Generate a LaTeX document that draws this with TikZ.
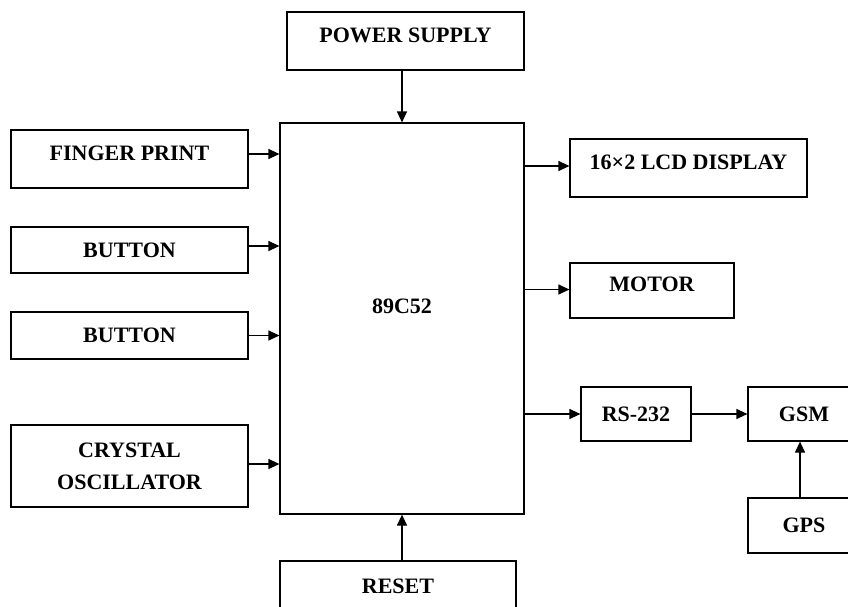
\documentclass[tikz,border=0pt]{standalone}
\usepackage{fontspec}
\setmainfont{Liberation Serif}
\usetikzlibrary{arrows.meta,calc,positioning}

\tikzset{
  blk/.style={draw,line width=1.2pt,align=center,inner sep=2pt,font=\bfseries\fontsize{22}{32}\selectfont},
  hi/.style={text depth=12pt},
  arr/.style={line width=1.2pt,-{Triangle[length=11pt,width=10pt]}}
}

\begin{document}
\begin{tikzpicture}[x=1pt,y=-1pt]
\path[use as bounding box] (0,0) rectangle (848,606);
\node[blk,hi,minimum width=237pt,minimum height=58pt] (power) at (405.5,41) {POWER SUPPLY};
\node[blk,text depth=25pt,minimum width=244pt,minimum height=391pt] (mcu) at (402,318.5) {89C52};
\node[blk,hi,minimum width=237pt,minimum height=58pt] (finger) at (129.5,159) {FINGER PRINT};
\node[blk,minimum width=237pt,minimum height=46pt] (btnA) at (129.5,250) {BUTTON};
\node[blk,minimum width=237pt,minimum height=47pt] (btnB) at (129.5,335.5) {BUTTON};
\node[blk,minimum width=237pt,minimum height=82pt] (crystal) at (129.5,466) {CRYSTAL\\OSCILLATOR};
\node[blk,hi,minimum width=237pt,minimum height=58pt] (lcd) at (688.5,168) {16×2 LCD DISPLAY};
\node[blk,hi,minimum width=164pt,minimum height=55pt] (motor) at (652,290.5) {MOTOR};
\node[blk,minimum width=110pt,minimum height=54pt] (rs) at (636,414) {RS-232};
\node[blk,minimum width=112pt,minimum height=54pt] (gsm) at (804,414) {GSM};
\node[blk,minimum width=112pt,minimum height=55pt] (gps) at (804,525.5) {GPS};
\node[blk,minimum width=236pt,minimum height=50pt] (reset) at (398,586) {RESET};

\draw[arr] (mcu.north |- power.south) -- (mcu.north);
\draw[arr] ([yshift=5pt]finger.east) -- ([yshift=5pt]finger.east -| mcu.west);
\draw[arr] ([yshift=4pt]btnA.east) -- ([yshift=4pt]btnA.east -| mcu.west);
\draw[arr] (btnB.east) -- (btnB.east -| mcu.west);
\draw[arr] ([yshift=2pt]crystal.east) -- ([yshift=2pt]crystal.east -| mcu.west);
\draw[arr] ([yshift=2pt]lcd.west -| mcu.east) -- ([yshift=2pt]lcd.west);
\draw[arr] ([yshift=1pt]motor.west -| mcu.east) -- ([yshift=1pt]motor.west);
\draw[arr] (rs.west -| mcu.east) -- (rs.west);
\draw[arr] (rs) -- (gsm);
\draw[arr] ([xshift=-4pt]gps.north) -- ([xshift=-4pt]gsm.south);
\draw[arr] (mcu.south |- reset.north) -- (mcu.south);
\end{tikzpicture}
\end{document}
